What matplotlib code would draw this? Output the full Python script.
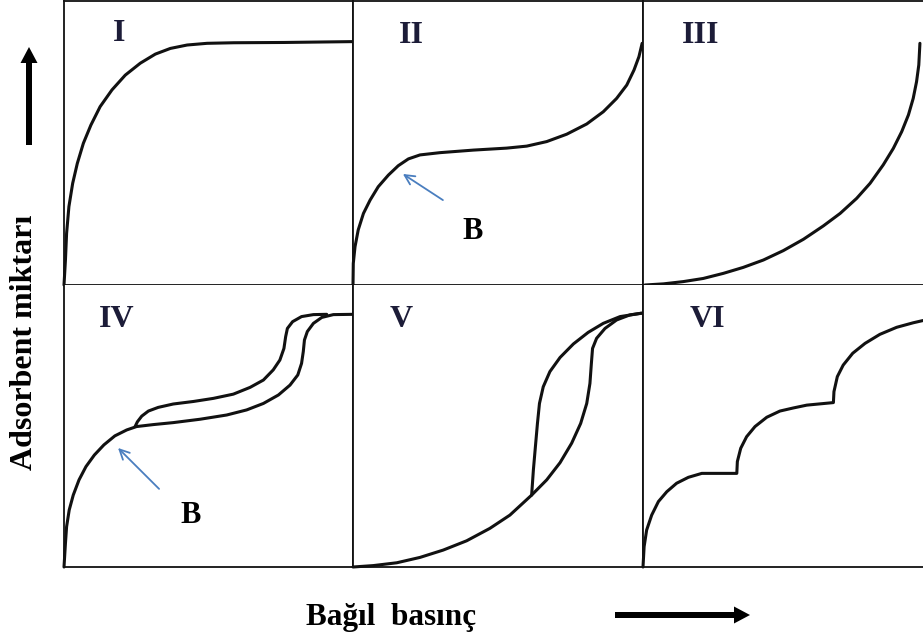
import matplotlib
matplotlib.use("Agg")
import matplotlib.pyplot as plt

# isotherm shapes, x = relative pressure (0-1), y = amount adsorbed (0-1)
type1_x = [0, 0.005, 0.009, 0.017, 0.030, 0.046, 0.067, 0.093, 0.125, 0.166, 0.212, 0.264, 0.316,
           0.368, 0.426, 0.495, 0.588, 0.762, 1.0]
type1_y = [0, 0.088, 0.182, 0.276, 0.358, 0.428, 0.499, 0.563, 0.628, 0.687, 0.739, 0.781, 0.813,
           0.833, 0.845, 0.851, 0.853, 0.854, 0.857]

type2_x = [0, 0.001, 0.007, 0.018, 0.036, 0.059, 0.087, 0.122, 0.156, 0.191, 0.231, 0.300, 0.415,
           0.530, 0.599, 0.668, 0.737, 0.806, 0.863, 0.909, 0.944, 0.969, 0.986, 0.997]
type2_y = [0, 0.076, 0.135, 0.194, 0.252, 0.299, 0.346, 0.387, 0.420, 0.444, 0.458, 0.466, 0.475,
           0.482, 0.489, 0.505, 0.531, 0.567, 0.610, 0.657, 0.704, 0.757, 0.804, 0.851]

type3_x = [0.007, 0.073, 0.144, 0.215, 0.287, 0.358, 0.430, 0.501, 0.573, 0.644, 0.704, 0.763, 0.811,
           0.858, 0.894, 0.924, 0.948, 0.965, 0.977, 0.985, 0.989]
type3_y = [0, 0.004, 0.012, 0.023, 0.041, 0.062, 0.088, 0.121, 0.161, 0.208, 0.252, 0.305, 0.358,
           0.423, 0.481, 0.540, 0.599, 0.657, 0.716, 0.775, 0.851]

type4_ads_x = [0, 0.005, 0.009, 0.018, 0.032, 0.052, 0.076, 0.105, 0.138, 0.176, 0.217, 0.251, 0.309,
               0.378, 0.471, 0.563, 0.632, 0.690, 0.742, 0.782, 0.809, 0.822, 0.828, 0.832, 0.842,
               0.863, 0.892, 0.932, 1.0]
type4_ads_y = [0, 0.084, 0.143, 0.202, 0.255, 0.309, 0.356, 0.397, 0.433, 0.465, 0.486, 0.498, 0.505,
               0.512, 0.524, 0.539, 0.557, 0.580, 0.610, 0.645, 0.681, 0.722, 0.764, 0.805, 0.835,
               0.864, 0.885, 0.895, 0.896]
type4_des_x = [0.246, 0.254, 0.269, 0.292, 0.326, 0.378, 0.448, 0.517, 0.586, 0.644, 0.690, 0.724,
               0.747, 0.761, 0.767, 0.773, 0.791, 0.822, 0.863, 0.909]
type4_des_y = [0.498, 0.515, 0.535, 0.553, 0.566, 0.578, 0.587, 0.598, 0.613, 0.637, 0.663, 0.699,
               0.734, 0.775, 0.817, 0.846, 0.870, 0.888, 0.895, 0.896]

type5_ads_x = [0, 0.070, 0.151, 0.231, 0.311, 0.392, 0.472, 0.541, 0.616, 0.668, 0.714, 0.754, 0.785,
               0.806, 0.817, 0.822, 0.826, 0.840, 0.869, 0.909, 0.955, 0.995]
type5_ads_y = [0, 0.005, 0.015, 0.034, 0.060, 0.093, 0.137, 0.184, 0.255, 0.309, 0.370, 0.439, 0.509,
               0.580, 0.651, 0.722, 0.775, 0.811, 0.846, 0.876, 0.894, 0.900]
type5_des_x = [0.616, 0.622, 0.629, 0.636, 0.643, 0.656, 0.679, 0.714, 0.760, 0.811, 0.863, 0.921, 0.995]
type5_des_y = [0.255, 0.344, 0.427, 0.509, 0.580, 0.639, 0.693, 0.743, 0.791, 0.832, 0.864, 0.888, 0.900]

type6_x = [0, 0.004, 0.013, 0.031, 0.055, 0.085, 0.120, 0.162, 0.210, 0.335, 0.337, 0.349, 0.370,
           0.400, 0.442, 0.489, 0.537, 0.585, 0.680, 0.682, 0.694, 0.715, 0.749, 0.793, 0.846,
           0.906, 0.965, 1.0]
type6_y = [0, 0.072, 0.131, 0.184, 0.232, 0.267, 0.297, 0.318, 0.332, 0.332, 0.374, 0.421, 0.462,
           0.498, 0.531, 0.553, 0.564, 0.574, 0.583, 0.622, 0.675, 0.716, 0.758, 0.793, 0.825,
           0.850, 0.866, 0.874]

numerals = ["I", "II", "III", "IV", "V", "VI"]
numeral_pos = [(0.191, 0.887), (0.203, 0.880), (0.207, 0.880), (0.183, 0.879), (0.166, 0.879), (0.229, 0.879)]

W, H = 923, 639
cols = [(64, 353), (353, 643), (643, 923)]
rows = [(1, 285), (285, 567)]

fig = plt.figure(figsize=(W / 100, H / 100), dpi=100)
serif = ["Liberation Serif", "DejaVu Serif"]
ink = "#111111"


def panel(r, c):
    x0, x1 = cols[c]
    y0, y1 = rows[r]
    ax = fig.add_axes([x0 / W, 1 - y1 / H, (x1 - x0) / W, (y1 - y0) / H])
    ax.set_xlim(0, 1)
    ax.set_ylim(0, 1)
    ax.set_xticks([])
    ax.set_yticks([])
    for s in ax.spines.values():
        s.set_linewidth(1.3)
        s.set_color("#111111")
    if c == 2:
        ax.spines["right"].set_visible(False)
    if r == 1:
        ax.spines["top"].set_visible(False)
    return ax


axes = [panel(r, c) for r in range(2) for c in range(3)]
curves = [
    [(type1_x, type1_y)],
    [(type2_x, type2_y)],
    [(type3_x, type3_y)],
    [(type4_ads_x, type4_ads_y), (type4_des_x, type4_des_y)],
    [(type5_ads_x, type5_ads_y), (type5_des_x, type5_des_y)],
    [(type6_x, type6_y)],
]
for ax, cs, name, pos in zip(axes, curves, numerals, numeral_pos):
    for xs, ys in cs:
        ax.plot(xs, ys, color=ink, lw=2.2, solid_capstyle="round", solid_joinstyle="round", clip_on=False)
    ax.text(pos[0], pos[1], name, ha="center", va="center", family=serif, fontweight="bold",
            fontsize=23, color="#1c1c38")

# point B markers
blue = "#4a7ebf"
for ax, tail, head, bpos in [(axes[1], (0.310, 0.299), (0.172, 0.391), (0.414, 0.187)),
                             (axes[3], (0.329, 0.277), (0.187, 0.422), (0.439, 0.184))]:
    ax.annotate("", xy=head, xytext=tail,
                arrowprops=dict(arrowstyle="->,head_length=0.7,head_width=0.35", color=blue, lw=1.3,
                                shrinkA=0, shrinkB=0))
    ax.text(bpos[0], bpos[1], "B", ha="center", va="center", family=serif, fontweight="bold",
            fontsize=22, color="black")

# axis labels with direction arrows
fig.text(25 / W, 1 - 342 / H, "Adsorbent miktarı", rotation=90, ha="center", va="center",
         family=serif, fontweight="bold", fontsize=23)
fig.text(391 / W, 1 - 617 / H, "Bağıl  basınç", ha="center", va="center",
         family=serif, fontweight="bold", fontsize=22.5)

arrow = dict(arrowstyle="simple,head_length=16,head_width=17,tail_width=6", color="black",
             lw=0, shrinkA=0, shrinkB=0, mutation_scale=0.72)
fig.add_artist(matplotlib.patches.FancyArrowPatch((29, H - 145), (29, H - 47), transform=None, **arrow))
fig.add_artist(matplotlib.patches.FancyArrowPatch((615, H - 615), (750, H - 615), transform=None, **arrow))

fig.savefig("out.png", dpi=100, facecolor="white")
